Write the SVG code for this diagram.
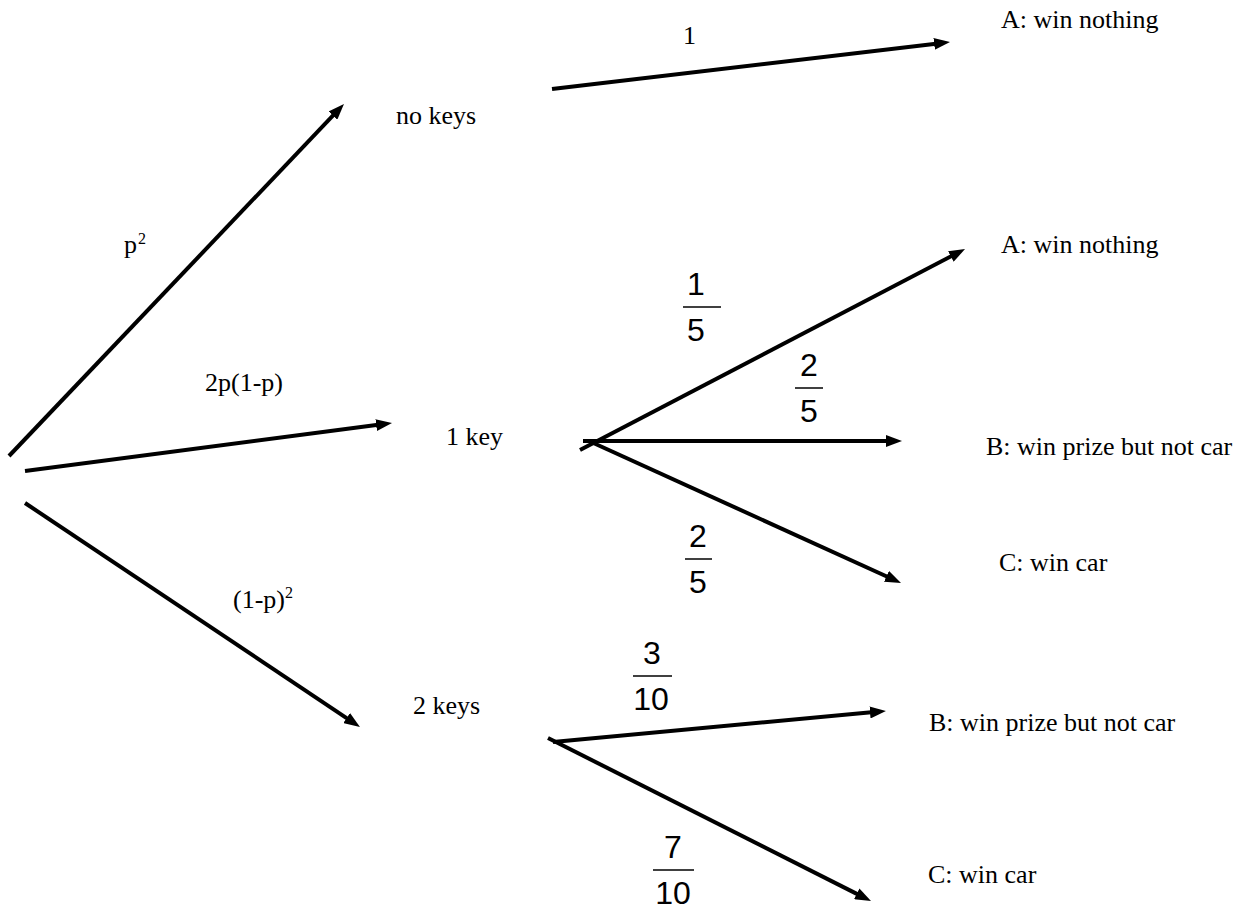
<svg xmlns="http://www.w3.org/2000/svg" width="1248" height="916" viewBox="0 0 1248 916">
<style>
.t{font-family:"Liberation Serif","Times New Roman",serif;font-size:26px;fill:#000}
.sup{font-family:"Liberation Serif","Times New Roman",serif;font-size:16px;fill:#000}
.f{font-family:"Liberation Sans",Arial,sans-serif;font-size:32px;fill:#000;text-anchor:middle}
.bar{stroke:#000;stroke-width:1.5}
.c{stroke:#000;stroke-width:4;fill:none;marker-end:url(#ah)}
</style>
<defs>
<marker id="ah" markerUnits="userSpaceOnUse" markerWidth="16" markerHeight="12" refX="4" refY="6" orient="auto" viewBox="0 0 16 12">
<path d="M0,0 L16,6 L0,12 z" fill="#000"/>
</marker>
</defs>
<rect width="1248" height="916" fill="#fff"/>
<g id="connectors">
<line class="c" x1="9" y1="456" x2="335.7" y2="112.7"/>
<line class="c" x1="25" y1="471" x2="380.1" y2="424.6"/>
<line class="c" x1="25" y1="503" x2="350" y2="720.3"/>
<line class="c" x1="552" y1="89" x2="938.1" y2="43.4"/>
<line class="c" x1="580" y1="450" x2="954.4" y2="254.6"/>
<line class="c" x1="583" y1="441" x2="890" y2="441"/>
<line class="c" x1="589" y1="441" x2="890.1" y2="578"/>
<line class="c" x1="553" y1="742" x2="874" y2="712.1"/>
<line class="c" x1="548" y1="738" x2="860.3" y2="895.6"/>
</g>
<g id="edge-labels">
<g id="lbl-p2"><text class="t" x="124" y="253">p</text><text class="sup" x="138" y="244">2</text></g>
<g id="lbl-2p1p"><text class="t" x="205" y="391">2p(1-p)</text></g>
<g id="lbl-1p2"><text class="t" x="233" y="608">(1-p)</text><text class="sup" x="285" y="598">2</text></g>
<g id="lbl-1"><text class="t" x="683" y="44">1</text></g>
<g id="frac-1-5"><text class="f" x="696" y="295">1</text><line class="bar" x1="683" y1="307" x2="721" y2="307"/><text class="f" x="696" y="341">5</text></g>
<g id="frac-2-5a"><text class="f" x="809" y="376">2</text><line class="bar" x1="795" y1="388" x2="823" y2="388"/><text class="f" x="809" y="422">5</text></g>
<g id="frac-2-5b"><text class="f" x="698" y="547">2</text><line class="bar" x1="685" y1="559" x2="712" y2="559"/><text class="f" x="698" y="593">5</text></g>
<g id="frac-3-10"><text class="f" x="652" y="664">3</text><line class="bar" x1="633" y1="676" x2="672" y2="676"/><text class="f" x="651" y="710">10</text></g>
<g id="frac-7-10"><text class="f" x="673" y="858">7</text><line class="bar" x1="653" y1="870" x2="694" y2="870"/><text class="f" x="673" y="904">10</text></g>
</g>
<g id="node-nokeys"><text class="t" x="396" y="124">no keys</text></g>
<g id="node-1key"><text class="t" x="446" y="445">1 key</text></g>
<g id="node-2keys"><text class="t" x="413" y="714">2 keys</text></g>
<g id="node-A1"><text class="t" x="1001" y="28">A: win nothing</text></g>
<g id="node-A2"><text class="t" x="1001" y="253">A: win nothing</text></g>
<g id="node-B1"><text class="t" x="986" y="455">B: win prize but not car</text></g>
<g id="node-C1"><text class="t" x="999" y="571">C: win car</text></g>
<g id="node-B2"><text class="t" x="929" y="731">B: win prize but not car</text></g>
<g id="node-C2"><text class="t" x="928" y="883">C: win car</text></g>
</svg>
